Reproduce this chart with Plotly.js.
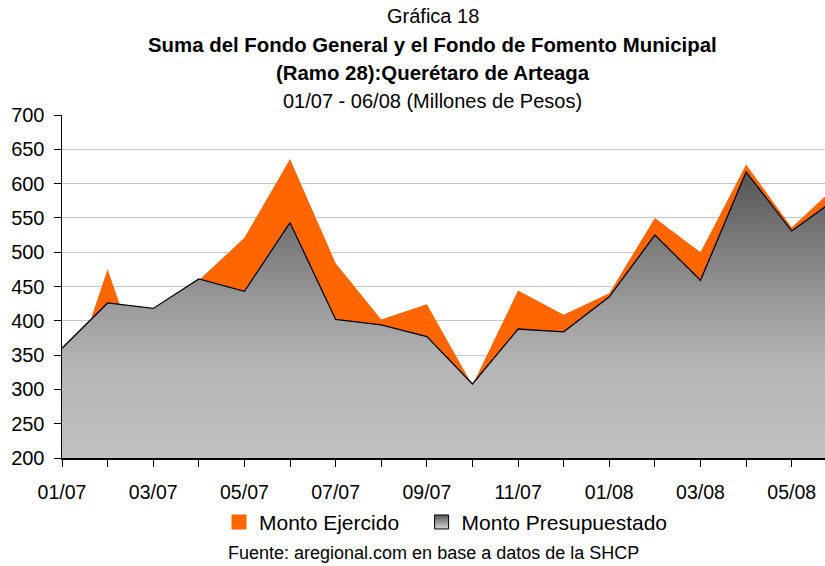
<!DOCTYPE html>
<html>
<head>
<meta charset="utf-8">
<script src="https://cdn.plot.ly/plotly-3.0.1.min.js"></script>
<style>html,body{margin:0;padding:0;background:#fff;}#chart{width:825px;height:566px;}</style>
</head>
<body>
<div id="chart"></div>
<script>
const months = ["01/07","02/07","03/07","04/07","05/07","06/07","07/07","08/07","09/07","10/07","11/07","12/07","01/08","02/08","03/08","04/08","05/08","06/08"];
const montoEjercido = [278, 475, 283, 459, 521, 636, 484, 402, 424, 306, 444, 409, 440, 550, 500, 628, 536, 598];
const montoPresupuestado = [360, 426, 418, 461, 443, 543, 402, 394, 377, 308, 388, 384, 435, 525, 459, 617, 531, 579];
const seriesNames = ["Monto Ejercido", "Monto Presupuestado"];
const yTicks = [200, 250, 300, 350, 400, 450, 500, 550, 600, 650, 700];

const xIdx = months.map((m, i) => i);
const tickIdx = xIdx.filter(i => i % 2 === 0);
const tickTxt = tickIdx.map(i => months[i]);

const FONT = "Liberation Sans, Arial, sans-serif";

const traces = [
  {
    x: xIdx, y: montoEjercido, type: "scatter", mode: "lines",
    fill: "tozeroy", fillcolor: "#FF6600",
    line: {color: "#FF6600", width: 0},
    showlegend: false, hoverinfo: "skip"
  },
  {
    x: xIdx, y: montoPresupuestado, type: "scatter", mode: "lines",
    fill: "tozeroy",
    fillgradient: {
      type: "vertical", start: 200, stop: 617,
      colorscale: [[0, "#c0c0c0"], [0.32, "#b5b5b5"], [0.55, "#999999"], [0.78, "#777777"], [1, "#555555"]]
    },
    line: {color: "#000000", width: 1.3},
    showlegend: false, hoverinfo: "skip"
  },
  {
    x: [null], y: [null], type: "scatter", mode: "markers", name: seriesNames[0] + "\u00a0\u00a0\u00a0",
    marker: {symbol: "square", size: 15, color: "#FF6600"}
  },
  {
    x: [null], y: [null], type: "scatter", mode: "markers", name: seriesNames[1],
    marker: {symbol: "square", size: 14, color: "#555555",
      gradient: {type: "vertical", color: "#d8d8d8"},
      line: {color: "#000000", width: 1}}
  }
];

const layout = {
  width: 825, height: 566,
  margin: {l: 62, r: 0, t: 114.7, b: 108.3, pad: 0},
  paper_bgcolor: "#ffffff", plot_bgcolor: "#ffffff",
  font: {family: FONT, color: "#000000", size: 20},
  showlegend: true,
  legend: {
    orientation: "h", x: (219 - 62) / 763, xanchor: "left", y: -0.1875, yanchor: "middle",
    font: {family: FONT, size: 21, color: "#000"}, bgcolor: "rgba(0,0,0,0)", itemwidth: 30
  },
  xaxis: {
    range: [0, 16.73], showgrid: false, zeroline: false,
    showline: true, linecolor: "#000000", linewidth: 2,
    tickmode: "array", tickvals: tickIdx, ticktext: tickTxt,
    ticks: "outside", ticklen: 7, tickcolor: "#000", tickwidth: 1,
    minor: {dtick: 1, tick0: 0, ticks: "outside", ticklen: 7, tickcolor: "#000", tickwidth: 1, showgrid: false},
    ticklabelstandoff: 9,
    tickfont: {family: FONT, size: 19.5, color: "#000"}
  },
  yaxis: {
    range: [200, 700], tickmode: "array", tickvals: yTicks,
    showgrid: true, gridcolor: "#c8c8c8", gridwidth: 1, zeroline: false,
    showline: true, linecolor: "#000000", linewidth: 1.5,
    ticks: "outside", ticklen: 7, tickcolor: "#000", tickwidth: 1,
    ticklabelstandoff: 5,
    tickfont: {family: FONT, size: 20, color: "#000"}
  },
  annotations: [
    {text: "Gráfica 18", xref: "paper", yref: "paper", x: 0.486, y: (457.7 - 16) / 343, xanchor: "center", yanchor: "middle", showarrow: false, font: {family: FONT, size: 20}},
    {text: "<b>Suma del Fondo General y el Fondo de Fomento Municipal</b>", xref: "paper", yref: "paper", x: 0.486, y: (457.7 - 45) / 343, xanchor: "center", yanchor: "middle", showarrow: false, font: {family: FONT, size: 20.4}},
    {text: "<b>(Ramo 28):Querétaro de Arteaga</b>", xref: "paper", yref: "paper", x: 0.486, y: (457.7 - 73) / 343, xanchor: "center", yanchor: "middle", showarrow: false, font: {family: FONT, size: 20.4}},
    {text: "01/07 - 06/08 (Millones de Pesos)", xref: "paper", yref: "paper", x: 0.486, y: (457.7 - 101) / 343, xanchor: "center", yanchor: "middle", showarrow: false, font: {family: FONT, size: 20}},
    {text: "Fuente: aregional.com en base a datos de la SHCP", xref: "paper", yref: "paper", x: 0.487, y: (457.7 - 553) / 343, xanchor: "center", yanchor: "middle", showarrow: false, font: {family: FONT, size: 18}}
  ]
};

Plotly.newPlot("chart", traces, layout, {staticPlot: true, displayModeBar: false});
</script>
</body>
</html>
